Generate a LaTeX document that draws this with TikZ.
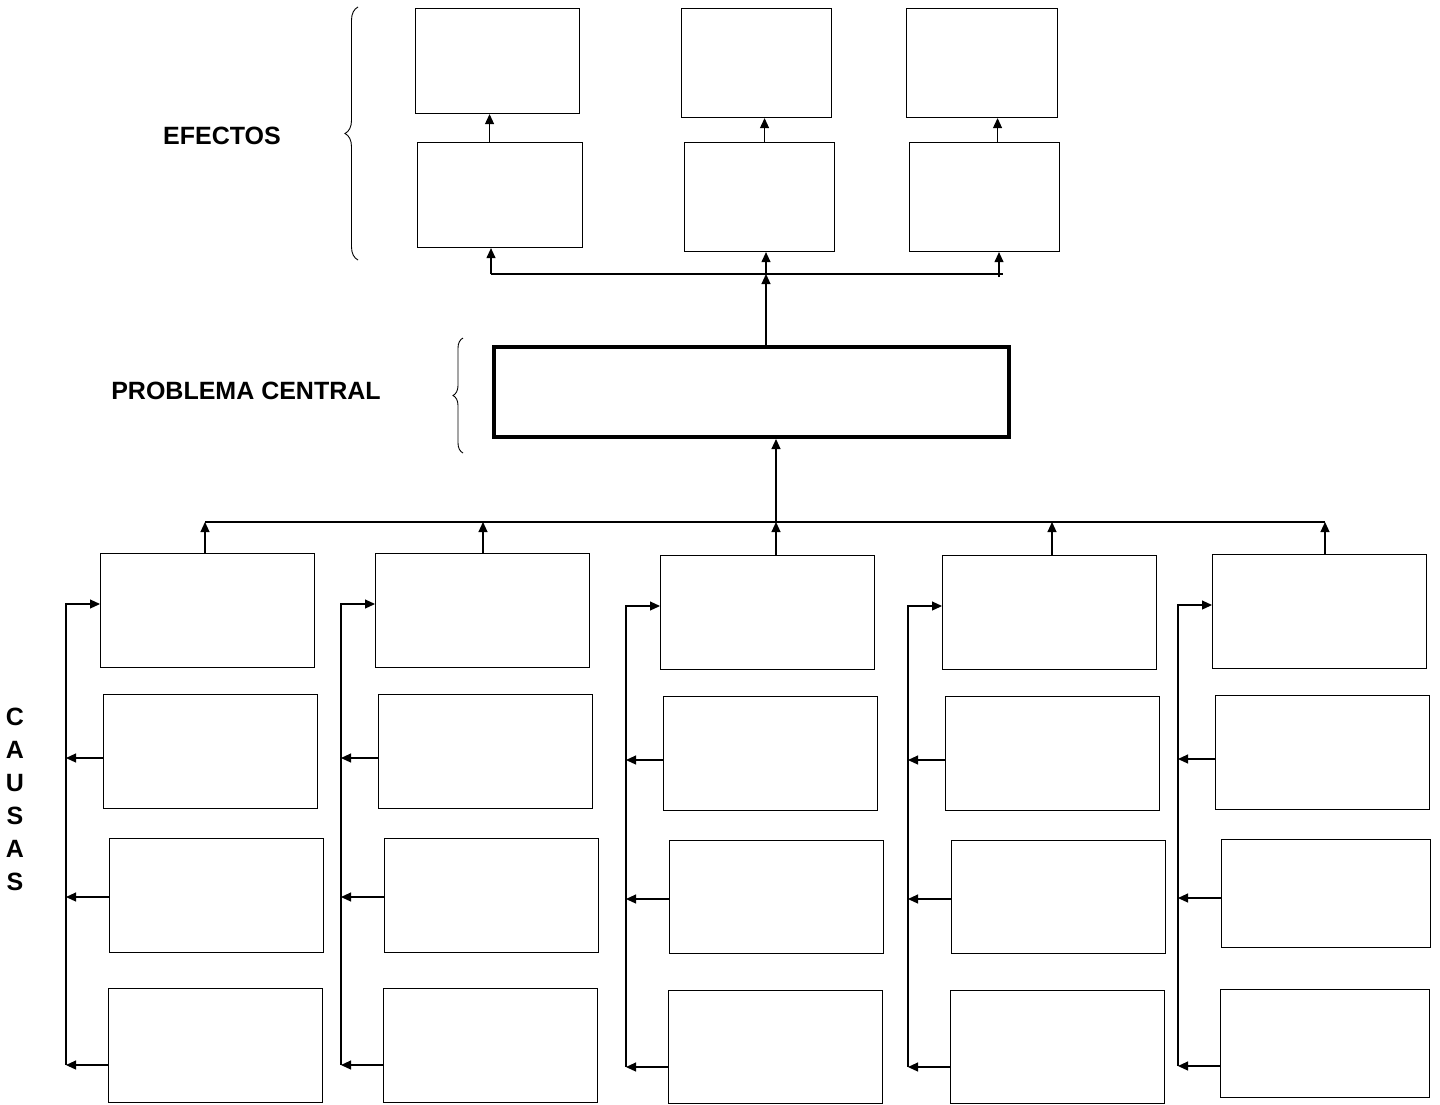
\documentclass[tikz,border=0pt]{standalone}
\usepackage{fontspec}
\setmainfont{Liberation Sans}
\usetikzlibrary{positioning, calc, arrows.meta, decorations.pathreplacing}
\tikzset{caja/.style={draw, line width=1.1pt, anchor=north west, inner sep=0pt}}
\tikzset{causa/.style={caja, minimum width=214pt, minimum height=114pt}}
\tikzset{central/.style={caja, line width=4pt, minimum width=515pt, minimum height=90pt}}
\tikzset{flecha/.style={line width=1.1pt, -{Triangle[length=10pt,width=9pt]}}}
\tikzset{linea/.style={line width=1.1pt}}
\tikzset{llave/.style={decorate, decoration={brace, amplitude=#1}, line width=0.9pt}, llave/.default=10pt}
\tikzset{rotulo/.style={font=\fontsize{25}{33}\selectfont\bfseries, inner sep=0pt}}

\begin{document}
\begin{tikzpicture}[x=1pt, y=-1pt]
      \useasboundingbox (0,0) rectangle (1440,1104);

      % efectos
      \node[caja, minimum width=164pt, minimum height=105pt] (ef1a) at (415,8) {};
      \node[caja, minimum width=150pt, minimum height=109pt] (ef2a) at (681,8) {};
      \node[caja, minimum width=151pt, minimum height=109pt] (ef3a) at (906,8) {};
      \node[caja, minimum width=165pt, minimum height=105pt] (ef1b) at (417,142) {};
      \node[caja, minimum width=150pt, minimum height=109pt] (ef2b) at (684,142) {};
      \node[caja, minimum width=150pt, minimum height=109pt] (ef3b) at (909,142) {};

      \draw[flecha] ([xshift=-10.5pt]ef1b.north) -- ([xshift=-10.5pt]ef1b.north |- ef1a.south);
      \draw[flecha] ([xshift=5pt]ef2b.north) -- ([xshift=5pt]ef2b.north |- ef2a.south);
      \draw[flecha] ([xshift=13pt]ef3b.north) -- ([xshift=13pt]ef3b.north |- ef3a.south);

      % problema central
      \node[central] (pc) at (492,345) {};

      \coordinate (d1) at (491,274);
      \coordinate (d2) at (766,274);
      \coordinate (d3) at (999,274);
      \coordinate (d4) at (1003,274);
      \draw[linea] (d1) -- (d4);
      \draw[flecha] (d1) -- (d1 |- ef1b.south);
      \draw[flecha] (d2) -- (d2 |- ef2b.south);
      \draw[flecha] ($(d3)+(0,3)$) -- (d3 |- ef3b.south);
      \draw[flecha] (d2 |- pc.north) -- (d2);

      % causas
      \foreach \c/\x/\y/\a/\w/\h in {1/100/553/205/214/114, 2/375/553/483/214/114, 3/660/555/776/214/113,
                                     4/942/555/1052/214/113, 5/1212/554/1325/209/108} {
        \node[causa] (c\c-1) at (\x,\y) {};
        \node[causa] (c\c-2) at (\x+3,\y+141) {};
        \node[causa, minimum width=\w pt, minimum height=\h pt] (c\c-3) at (\x+9,\y+285) {};
        \node[causa, minimum width=\w pt, minimum height=\h pt] (c\c-4) at (\x+8,\y+435) {};
        \coordinate (v\c-1) at (\x-34,\y+51);
        \coordinate (v\c-2) at (\x-34,\y+205);
        \coordinate (v\c-3) at (\x-34,\y+344);
        \coordinate (v\c-4) at (\x-34,\y+512);
        \coordinate (h\c) at (\a,522);
        \draw[flecha] (v\c-4) -- (v\c-1) -- (v\c-1 -| c\c-1.west);
        \foreach \r in {2,3,4} \draw[flecha] (c\c-\r.west |- v\c-\r) -- (v\c-\r);
        \draw[flecha] (h\c |- c\c-1.north) -- (h\c);
      }
      \draw[linea] (h1) -- (h5);
      \draw[flecha] (h3) -- (h3 |- pc.south);

      % llaves y rotulos
      \coordinate (l1) at (358,260);
      \coordinate (l2) at (358,7);
      \coordinate (l3) at (463,453);
      \coordinate (l4) at (463,338);
      \draw[llave=13pt] (l1) -- (l2);
      \draw[llave=10pt] (l3) -- (l4);

      \node[rotulo] (efectos) at (222,136) {EFECTOS};
      \node[rotulo] (problema) at (246,391) {PROBLEMA CENTRAL};
      \node[rotulo, align=center] (causas) at (15,799) {C\\A\\U\\S\\A\\S};

    \end{tikzpicture}
\end{document}
